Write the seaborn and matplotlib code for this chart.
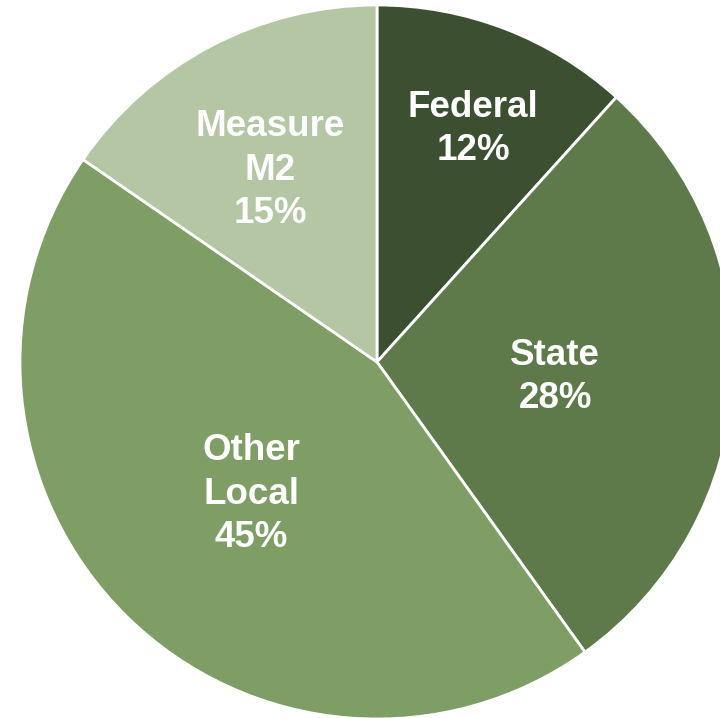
import matplotlib
matplotlib.use("Agg")
import matplotlib.pyplot as plt
import seaborn as sns

categories = ["Federal", "State", "Other\nLocal", "Measure\nM2"]
shares = [11.7, 28.4, 44.5, 15.4]
pct_labels = ["12%", "28%", "45%", "15%"]
colors = ["#3d4f31", "#5f7a4a", "#7f9e65", "#b4c6a4"]

sns.set_theme(style="white")
plt.rcParams['font.family'] = ['Liberation Sans', 'DejaVu Sans']
palette = sns.color_palette(colors)

fig = plt.figure(figsize=(7.2, 7.18), dpi=100)
ax = fig.add_axes([20/720, -1/718, 714/720, 714/718])
wedges, _ = ax.pie(shares, colors=palette, startangle=90, counterclock=False,
                   wedgeprops=dict(edgecolor="white", linewidth=2.0))
ax.set_xlim(-1, 1)
ax.set_ylim(-1, 1)
ax.set_aspect("equal")
ax.axis("off")

label_pos = [(473, 129), (555, 377), (251, 494), (270, 170)]
for cat, pct, (px, py) in zip(categories, pct_labels, label_pos):
    x = (px - 377) / 357
    y = (362 - py) / 357
    ax.text(x, y, f"{cat}\n{pct}", ha="center", va="center", color="white",
            fontsize=26.5, fontweight="bold", linespacing=1.3)

fig.savefig("out.png", dpi=100)
